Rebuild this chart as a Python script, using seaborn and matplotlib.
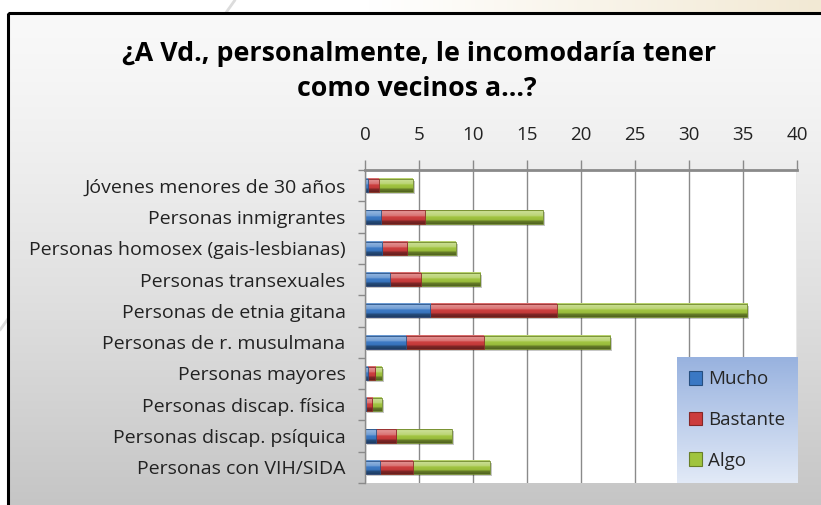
import numpy as np
import matplotlib
matplotlib.use("Agg")
import matplotlib.pyplot as plt
import seaborn as sns
from matplotlib.colors import to_rgb
from matplotlib.patches import Rectangle, Patch
from matplotlib.transforms import offset_copy

# ---------------- data ----------------
categories = [
    "Jóvenes menores de 30 años",
    "Personas inmigrantes",
    "Personas homosex (gais-lesbianas)",
    "Personas transexuales",
    "Personas de etnia gitana",
    "Personas de r. musulmana",
    "Personas mayores",
    "Personas discap. física",
    "Personas discap. psíquica",
    "Personas con VIH/SIDA",
]
mucho = [0.25, 1.45, 1.6, 2.3, 6.05, 3.75, 0.25, 0.1, 1.0, 1.35]
bastante = [1.0, 4.1, 2.3, 2.85, 11.7, 7.25, 0.7, 0.55, 1.9, 3.05]
algo = [3.15, 10.9, 4.5, 5.5, 17.65, 11.7, 0.6, 0.9, 5.15, 7.15]
series_names = ["Mucho", "Bastante", "Algo"]
x_ticks = [0, 5, 10, 15, 20, 25, 30, 35, 40]
title_lines = ["¿A Vd., personalmente, le incomodaría tener", "como vecinos a...?"]

colors = {"Mucho": "#3a78c4", "Bastante": "#cc3c3c", "Algo": "#a0c43e"}

sns.set_theme(style="white")
plt.rcParams["font.family"] = ["Open Sans", "DejaVu Sans"]

W, H = 821, 505
fig = plt.figure(figsize=(W / 100, H / 100), dpi=100)


def mix(c, other, t):
    c = np.array(to_rgb(c)); o = np.array(to_rgb(other))
    return c * (1 - t) + o * t


# ---------------- background (slide + chart area) ----------------
bg = fig.add_axes([0, 0, 1, 1], zorder=0)
bg.set_xlim(0, W); bg.set_ylim(H, 0); bg.axis("off")
tx = np.linspace(0, 1, 256)
slide = np.array([mix("#ffffff", "#f2e9d4", max(0, (t - 0.45) / 0.55)) for t in tx])[None, :, :]
bg.imshow(slide, extent=(0, W, H, 0), aspect="auto", zorder=0)
bg.plot([235, 0], [0, 330], color="#dcdcdc", lw=2, zorder=0.5)
ty = np.linspace(0, 1, 256)
area = np.array([mix("#f9f9f9", "#c4c4c4", t ** 1.3) for t in ty])[:, None, :]
bg.imshow(area, extent=(8, W + 10, H + 10, 13), aspect="auto", zorder=1)
bg.add_patch(Rectangle((8, 13), W + 10, H + 10, fill=False, ec="black", lw=2.2, zorder=2))
bg.set_xlim(0, W); bg.set_ylim(H, 0)

# ---------------- main axes ----------------
L, R, T, B = 365, 797, 170, 483
ax = fig.add_axes([L / W, 1 - B / H, (R - L) / W, (B - T) / H], zorder=2)
ax.set_facecolor("white")

m = np.array(mucho); b = np.array(bastante); a = np.array(algo)
cum = {"Algo": m + b + a, "Bastante": m + b, "Mucho": m}
zbase = {"Algo": 1.0, "Bastante": 1.2, "Mucho": 1.4}


def bar_gradient(c):
    stops = [(0.0, mix(c, "white", 0.15)), (0.1, mix(c, "white", 0.45)),
             (0.42, mix(c, "white", 0.28)), (0.48, mix(c, "white", 0.02)),
             (0.72, mix(c, "black", 0.05)), (0.78, mix(c, "black", 0.35)),
             (1.0, mix(c, "black", 0.5))]
    ys = np.linspace(0, 1, 96)
    rows = []
    for y in ys:
        for (p0, c0), (p1, c1) in zip(stops[:-1], stops[1:]):
            if p0 <= y <= p1:
                t = (y - p0) / (p1 - p0)
                rows.append(c0 * (1 - t) + c1 * t)
                break
    return np.array(rows)[:, None, :]


shadow_tr = offset_copy(ax.transData, fig=fig, x=2, y=-2, units="dots")
for name in ["Algo", "Bastante", "Mucho"]:
    n0 = len(ax.patches)
    sns.barplot(x=cum[name], y=categories, order=categories, color=colors[name],
                orient="h", width=0.42, ax=ax, saturation=1)
    grad = bar_gradient(colors[name])
    new = list(ax.patches[n0:])
    for p in new:
        x0, y0, w, h = p.get_x(), p.get_y(), p.get_width(), p.get_height()
        ax.imshow(grad, extent=(x0, x0 + w, y0 + h, y0), aspect="auto",
                  zorder=zbase[name], interpolation="bilinear")
        p.set_facecolor("none")
        p.set_edgecolor(mix(colors[name], "black", 0.3))
        p.set_linewidth(0.6)
        p.set_zorder(zbase[name] + 0.1)
        if name == "Algo":
            ax.add_patch(Rectangle((x0, y0), w, h, transform=shadow_tr,
                                   fc="black", ec="none", alpha=0.22, zorder=0.9))

ax.set_xlim(0, 40)
ax.set_ylim(9.5, -0.5)
ax.set_aspect("auto")
ax.set_xlabel(""); ax.set_ylabel("")

# grid
ax.set_axisbelow(True)
ax.xaxis.grid(True, color="#8a8a8a", lw=1)
ax.yaxis.grid(False)

# top axis
ax.xaxis.tick_top()
ax.set_xticks(x_ticks)
ax.set_xticklabels([str(v) for v in x_ticks])
ax.tick_params(axis="x", which="major", direction="out", length=7, width=1,
               color="#8a8a8a", pad=12, labelsize=13.5, labelcolor="#222222",
               top=True, bottom=False)

# y axis
ax.set_yticks(range(len(categories)))
ax.set_yticklabels(categories)
ax.tick_params(axis="y", which="major", length=0, pad=14, labelsize=14,
               labelcolor="#222222")
ax.set_yticks([i - 0.5 for i in range(len(categories) + 1)], minor=True)
ax.tick_params(axis="y", which="minor", direction="out", length=5, width=1,
               color="#8a8a8a", left=True)

for s in ["bottom", "right"]:
    ax.spines[s].set_visible(False)
ax.spines["top"].set_color("#8a8a8a"); ax.spines["top"].set_linewidth(2)
ax.spines["left"].set_color("#8a8a8a"); ax.spines["left"].set_linewidth(1)

# ---------------- legend ----------------
lx0, lx1, ly0, ly1 = 677, 798, 357, 483
axl = fig.add_axes([lx0 / W, 1 - ly1 / H, (lx1 - lx0) / W, (ly1 - ly0) / H], zorder=3)
lg = np.array([mix("#98b2df", "#e2eaf7", t) for t in ty])[:, None, :]
axl.imshow(lg, extent=(0, 1, 0, 1), aspect="auto")
axl.set_xlim(0, 1); axl.set_ylim(0, 1); axl.axis("off")
handles = [Patch(facecolor=colors[n], edgecolor=mix(colors[n], "black", 0.35), lw=0.8)
           for n in series_names]
axl.legend(handles, series_names, loc="center left", bbox_to_anchor=(0.04, 0.5),
           frameon=False, fontsize=13.5, handlelength=0.7, handleheight=0.7,
           labelspacing=1.2, handletextpad=0.3, borderaxespad=0)

# ---------------- title ----------------
fig.text(419 / W, 1 - 54 / H, title_lines[0], ha="center", va="center",
         fontsize=19.3, fontweight="bold", color="black")
fig.text(417 / W, 1 - 89 / H, title_lines[1], ha="center", va="center",
         fontsize=19.3, fontweight="bold", color="black")

fig.savefig("out.png", dpi=100)
